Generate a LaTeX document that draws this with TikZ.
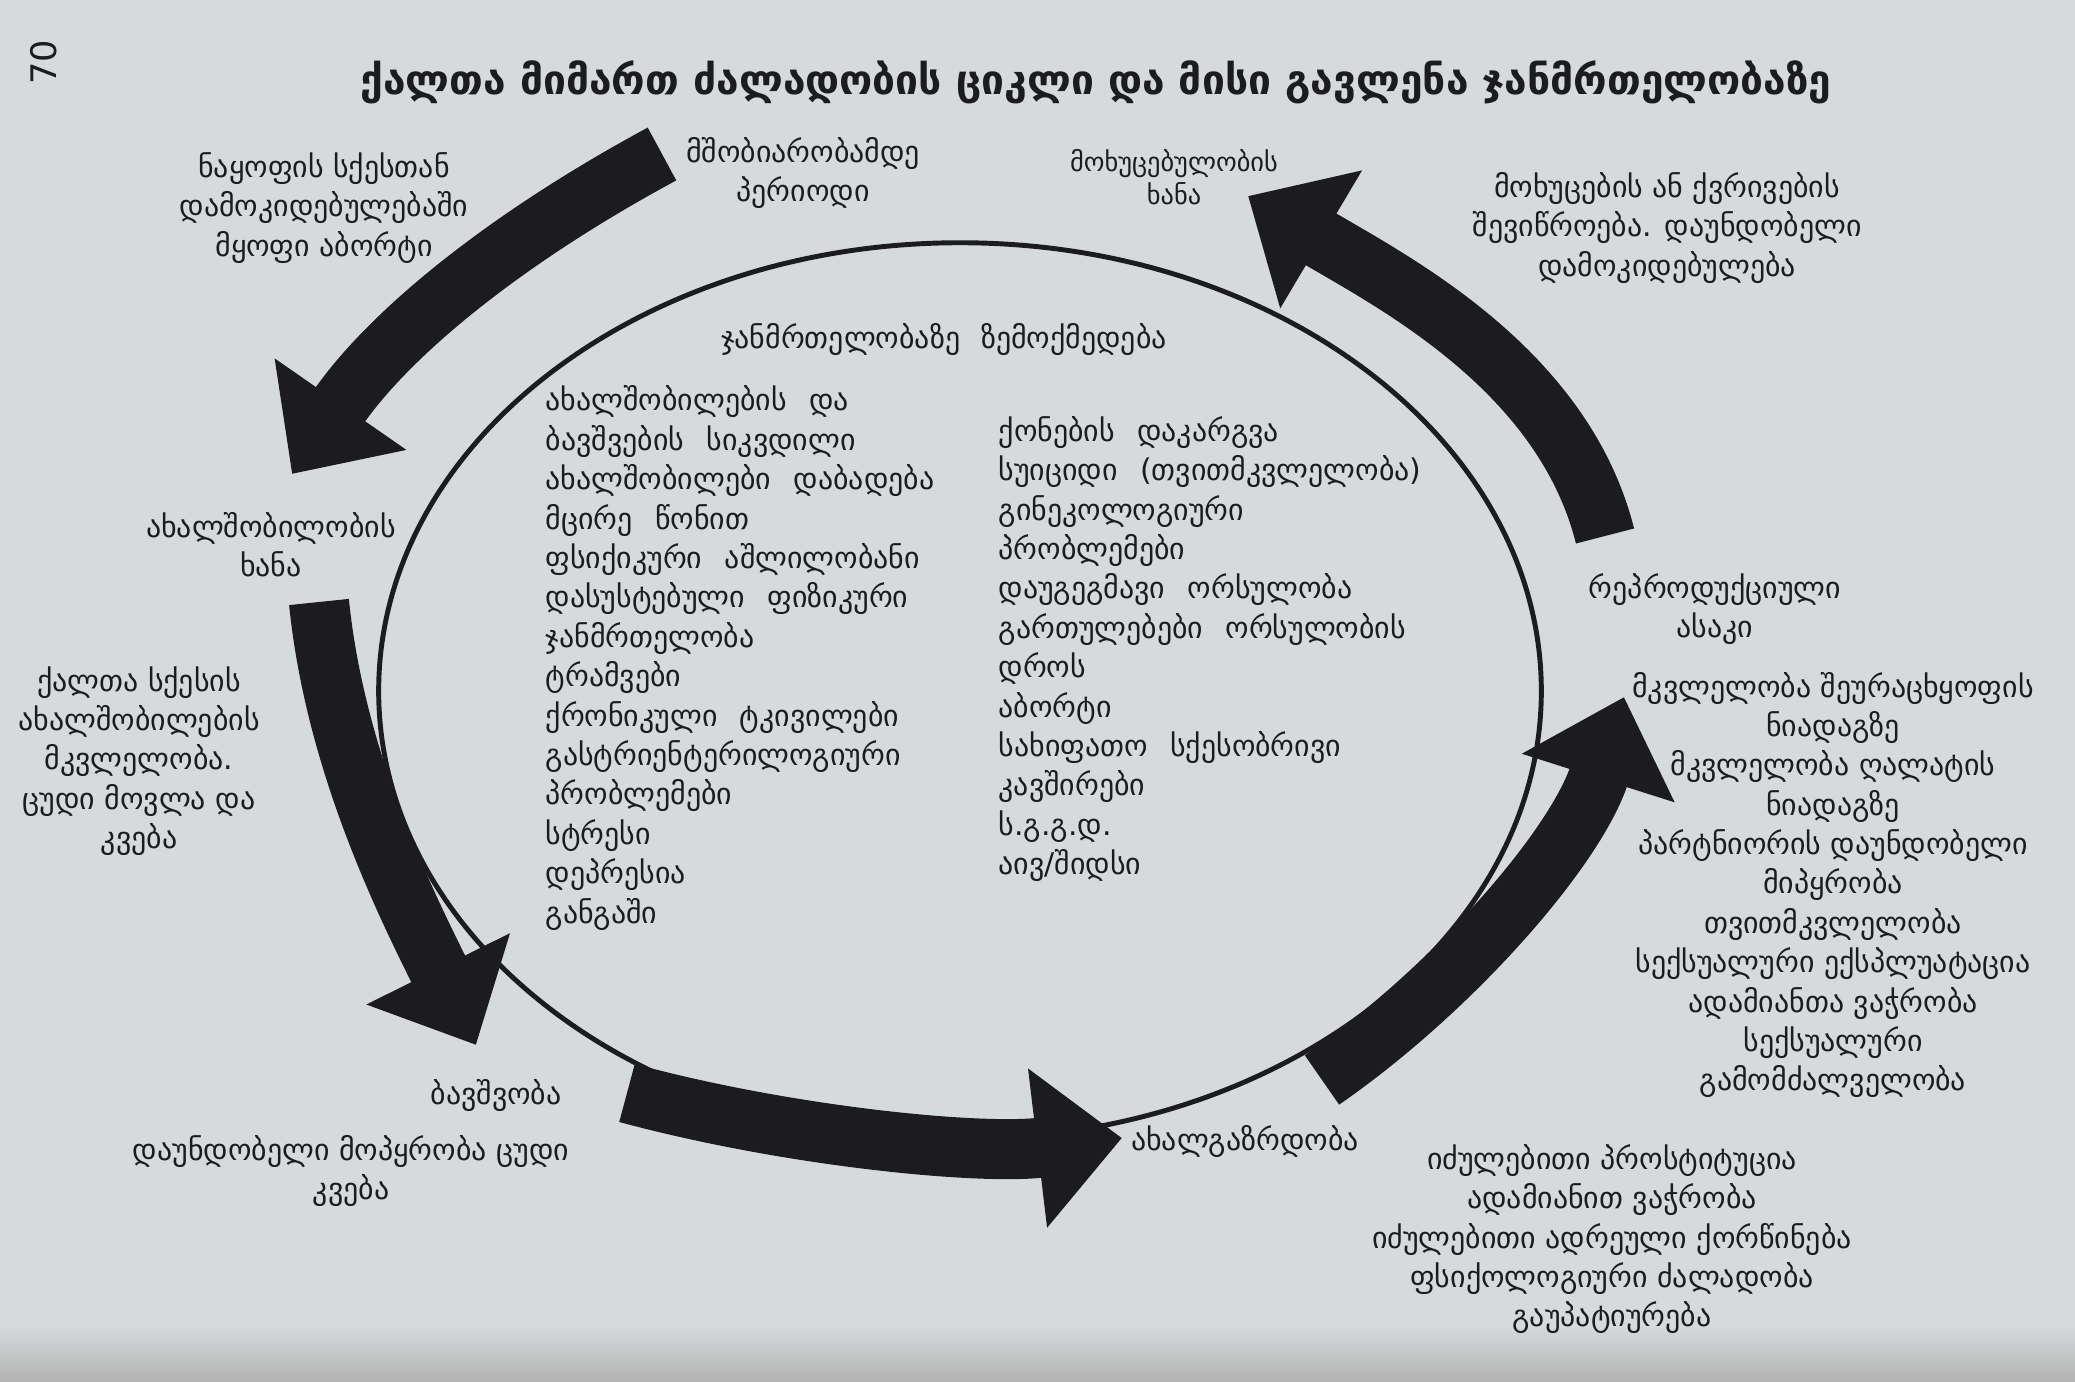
\documentclass[tikz,border=0pt]{standalone}
\usepackage{fontspec}
\setmainfont{DejaVu Sans}
\usetikzlibrary{arrows.meta}
\definecolor{paper}{RGB}{214,218,219}
\definecolor{ink}{RGB}{28,28,30}
\newcommand{\txtfont}{\fontsize{8.5}{11.2}\selectfont}
\newcommand{\widegap}[1]{\spaceskip=#1\relax}
\begin{document}
\begin{tikzpicture}[x=0.01cm,y=-0.01cm,
  lbl/.style={align=center,text=ink,font=\txtfont},
  col/.style={align=left,anchor=west,text=ink,inner sep=0pt,font={\txtfont\widegap{0.75em plus 0.2em}}},
  bigarrow/.style={draw=ink,line width=0.6cm,-{Triangle[length=0.85cm,width=1.55cm]}}]
\useasboundingbox (0,0) rectangle (2075,1382);
\fill[paper] (0,0) rectangle (2075,1382);
\shade[top color=paper,bottom color=black!30] (0,1325) rectangle (2075,1382);
\node[rotate=90,text=ink,font=\fontsize{10}{12}\selectfont] (pgnum) at (44,62) {70};
\node[text=ink,font=\fontsize{11.6}{14}\selectfont\bfseries] (title) at (1096,82) {ქალთა მიმართ ძალადობის ციკლი და მისი გავლენა ჯანმრთელობაზე};
\draw[ink,line width=1.4pt] (960,691) ellipse [x radius=5.81cm,y radius=4.48cm];
\node[lbl,font={\txtfont\widegap{0.7em}}] (impact) at (944,340) {ჯანმრთელობაზე ზემოქმედება};
\node[col] (leftcol) at (545,658) {ახალშობილების და\\ბავშვების სიკვდილი\\ახალშობილები დაბადება\\მცირე წონით\\ფსიქიკური აშლილობანი\\დასუსტებული ფიზიკური\\ჯანმრთელობა\\ტრამვები\\ქრონიკული ტკივილები\\გასტრიენტერილოგიური\\პრობლემები\\სტრესი\\დეპრესია\\განგაში};
\node[col] (rightcol) at (998,649) {ქონების დაკარგვა\\სუიციდი (თვითმკვლელობა)\\გინეკოლოგიური\\პრობლემები\\დაუგეგმავი ორსულობა\\გართულებები ორსულობის\\დროს\\აბორტი\\სახიფათო სქესობრივი\\კავშირები\\ს.გ.გ.დ.\\აივ/შიდსი};
\node[lbl] (prenatal) at (803,173) {მშობიარობამდე\\პერიოდი};
\node[lbl] (abortion) at (324,208) {ნაყოფის სქესთან\\დამოკიდებულებაში\\მყოფი აბორტი};
\node[lbl] (infancy) at (271,545) {ახალშობილობის\\ხანა};
\node[lbl] (infanticide) at (139,761) {ქალთა სქესის\\ახალშობილების\\მკვლელობა.\\ცუდი მოვლა და\\კვება};
\node[lbl] (childhood) at (496,1096) {ბავშვობა};
\node[lbl] (childabuse) at (351,1171) {დაუნდობელი მოპყრობა ცუდი\\კვება};
\node[lbl] (youth) at (1245,1141) {ახალგაზრდობა};
\node[lbl] (youthabuse) at (1612,1239) {იძულებითი პროსტიტუცია\\ადამიანით ვაჭრობა\\იძულებითი ადრეული ქორწინება\\ფსიქოლოგიური ძალადობა\\გაუპატიურება};
\node[lbl] (reproductive) at (1715,609) {რეპროდუქციული\\ასაკი};
\node[lbl] (adultabuse) at (1833,885) {მკვლელობა შეურაცხყოფის\\ნიადაგზე\\მკვლელობა ღალატის\\ნიადაგზე\\პარტნიორის დაუნდობელი\\მიპყრობა\\თვითმკვლელობა\\სექსუალური ექსპლუატაცია\\ადამიანთა ვაჭრობა\\სექსუალური\\გამომძალველობა};
\node[lbl,font=\fontsize{7.5}{9.5}\selectfont] (oldage) at (1174,177) {მოხუცებულობის\\ხანა};
\node[lbl] (elderabuse) at (1667,228) {მოხუცების ან ქვრივების\\შევიწროება. დაუნდობელი\\დამოკიდებულება};
\coordinate (a1s) at (662,154);
\coordinate (a1e) at (292,474);
\coordinate (a2s) at (319,602);
\coordinate (a2e) at (476,1045);
\coordinate (a3s) at (627,1093);
\coordinate (a3e) at (1122,1138);
\coordinate (a4s) at (1322,1080);
\coordinate (a4e) at (1624,697);
\coordinate (a5s) at (1605,536);
\coordinate (a5e) at (1248,196);
\draw[bigarrow] (a1s) .. controls (510,236) and (392,330) .. (a1e);
\draw[bigarrow] (a2s) .. controls (335,761) and (405,902) .. (a2e);
\draw[bigarrow] (a3s) .. controls (790,1137) and (980,1155) .. (a3e);
\draw[bigarrow] (a4s) .. controls (1452,990) and (1576,848) .. (a4e);
\draw[bigarrow] (a5s) .. controls (1563,369) and (1393,282) .. (a5e);
\end{tikzpicture}
\end{document}
